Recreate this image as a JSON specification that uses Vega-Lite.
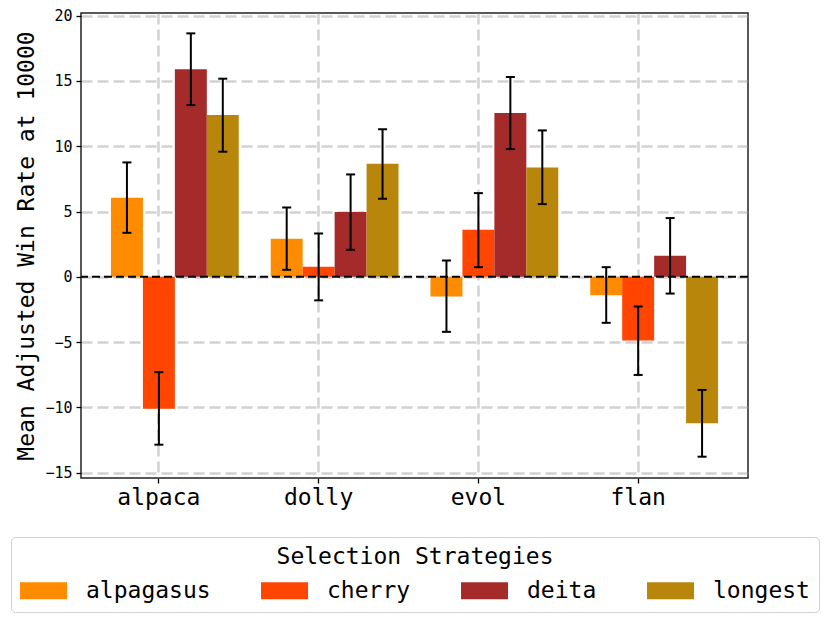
{
  "$schema": "https://vega.github.io/schema/vega-lite/v6.json",
  "width": 667,
  "height": 465,
  "autosize": {"type": "none"},
  "padding": {"left": 81, "top": 13, "right": 82, "bottom": 146},
  "config": {
    "font": "DejaVu Sans Mono",
    "view": {"stroke": "#222", "strokeWidth": 1.5},
    "axis": {
      "domain": false,
      "grid": true,
      "gridColor": "#999",
      "gridOpacity": 0.45,
      "gridWidth": 2.5,
      "gridDash": [11, 5],
      "tickColor": "#000",
      "tickSize": 5,
      "tickWidth": 1.3,
      "labelColor": "#000",
      "zindex": 1
    }
  },
  "data": {
    "values": [
      {"dataset": "alpaca", "strategy": "alpagasus", "value": 6.05, "lo": 3.37, "hi": 8.76},
      {"dataset": "alpaca", "strategy": "cherry", "value": -10.1, "lo": -12.85, "hi": -7.3},
      {"dataset": "alpaca", "strategy": "deita", "value": 15.9, "lo": 13.15, "hi": 18.64},
      {"dataset": "alpaca", "strategy": "longest", "value": 12.39, "lo": 9.58, "hi": 15.17},
      {"dataset": "dolly", "strategy": "alpagasus", "value": 2.91, "lo": 0.54, "hi": 5.31},
      {"dataset": "dolly", "strategy": "cherry", "value": 0.77, "lo": -1.8, "hi": 3.32},
      {"dataset": "dolly", "strategy": "deita", "value": 4.96, "lo": 2.07, "hi": 7.84},
      {"dataset": "dolly", "strategy": "longest", "value": 8.66, "lo": 5.98, "hi": 11.3},
      {"dataset": "evol", "strategy": "alpagasus", "value": -1.51, "lo": -4.21, "hi": 1.25},
      {"dataset": "evol", "strategy": "cherry", "value": 3.6, "lo": 0.74, "hi": 6.41},
      {"dataset": "evol", "strategy": "deita", "value": 12.54, "lo": 9.78, "hi": 15.3},
      {"dataset": "evol", "strategy": "longest", "value": 8.38, "lo": 5.57, "hi": 11.21},
      {"dataset": "flan", "strategy": "alpagasus", "value": -1.4, "lo": -3.52, "hi": 0.74},
      {"dataset": "flan", "strategy": "cherry", "value": -4.88, "lo": -7.51, "hi": -2.27},
      {"dataset": "flan", "strategy": "deita", "value": 1.61, "lo": -1.28, "hi": 4.5},
      {"dataset": "flan", "strategy": "longest", "value": -11.21, "lo": -13.77, "hi": -8.66}
    ]
  },
  "layer": [
    {
      "encoding": {
        "x": {
          "field": "dataset",
          "type": "nominal",
          "sort": ["alpaca", "dolly", "evol", "flan"],
          "scale": {"paddingInner": 0.2, "paddingOuter": 0.1875},
          "axis": {
            "title": null,
            "labelAngle": 0,
            "labelFontSize": 23,
            "labelPadding": 3,
            "labelOffset": -16,
            "bandPosition": 0.375
          }
        },
        "xOffset": {
          "field": "strategy",
          "type": "nominal",
          "sort": ["alpagasus", "cherry", "deita", "longest"],
          "scale": {"paddingInner": 0, "paddingOuter": 0}
        }
      },
      "layer": [
        {
          "mark": {"type": "bar"},
          "encoding": {
            "y": {
              "field": "value",
              "type": "quantitative",
              "scale": {"domain": [-15.4, 20.2], "nice": false, "zero": false},
              "axis": {
                "title": "Mean Adjusted Win Rate at 10000",
                "titleFontSize": 23,
                "titleFontWeight": "normal",
                "titleColor": "#000",
                "titlePadding": 6,
                "labelFontSize": 15,
                "labelPadding": 4,
                "values": [-15, -10, -5, 0, 5, 10, 15, 20]
              }
            },
            "color": {
              "field": "strategy",
              "type": "nominal",
              "sort": ["alpagasus", "cherry", "deita", "longest"],
              "scale": {
                "domain": ["alpagasus", "cherry", "deita", "longest"],
                "range": ["#FF8C00", "#FF4500", "#A52A2A", "#B8860B"]
              },
              "legend": {
                "title": "Selection Strategies",
                "orient": "none",
                "legendX": -70,
                "legendY": 524,
                "direction": "horizontal",
                "columns": 4,
                "columnPadding": 50,
                "padding": 9,
                "strokeColor": "#d0d0d0",
                "fillColor": "#fff",
                "cornerRadius": 4,
                "titleFontSize": 23,
                "titleFontWeight": "normal",
                "titleColor": "#000",
                "titleAnchor": "middle",
                "titleLimit": 1000,
                "titlePadding": 10,
                "labelFontSize": 23,
                "labelColor": "#000",
                "labelOffset": 43,
                "labelLimit": 400,
                "symbolType": "M-1.35,-1H4.18V1H-1.35Z",
                "symbolSize": 289,
                "symbolStrokeWidth": 0,
                "symbolOpacity": 1
              }
            }
          }
        },
        {
          "mark": {"type": "rule", "color": "#000", "strokeWidth": 2},
          "encoding": {
            "y": {"field": "lo", "type": "quantitative"},
            "y2": {"field": "hi"}
          }
        },
        {
          "mark": {"type": "tick", "color": "#000", "thickness": 2, "size": 9, "opacity": 1},
          "encoding": {"y": {"field": "lo", "type": "quantitative"}}
        },
        {
          "mark": {"type": "tick", "color": "#000", "thickness": 2, "size": 9, "opacity": 1},
          "encoding": {"y": {"field": "hi", "type": "quantitative"}}
        }
      ]
    },
    {
      "data": {"values": [{"zero": 0}]},
      "mark": {"type": "rule", "color": "#000", "strokeWidth": 2, "strokeDash": [8, 4]},
      "encoding": {"y": {"field": "zero", "type": "quantitative"}}
    }
  ]
}
